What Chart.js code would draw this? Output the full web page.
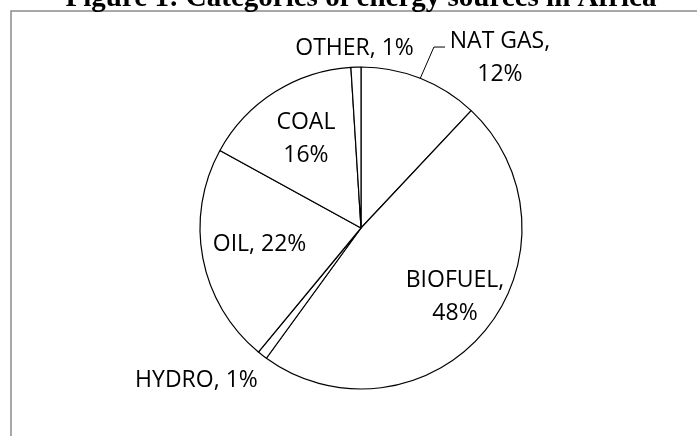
<!DOCTYPE html>
<html>
<head>
<meta charset="utf-8">
<script src="https://cdn.jsdelivr.net/npm/chart.js@4"></script>
<style>
  html, body { margin: 0; padding: 0; background: #fff; }
  #wrap { width: 697px; height: 436px; position: relative; overflow: hidden; }
</style>
</head>
<body>
<div id="wrap"><canvas id="energyChart" width="697" height="436"></canvas></div>
<script>
// data
const categories = ['NAT GAS', 'BIOFUEL', 'HYDRO', 'OIL', 'COAL', 'OTHER'];
const shares = [12, 48, 1, 22, 16, 1];
const titleText = 'Figure 1: Categories of energy sources in Africa';

// label layout, in units of the pie radius from its centre
const labelLines = [
    ['NAT GAS,', '{p}'],
    ['BIOFUEL,', '{p}'],
    ['HYDRO, {p}'],
    ['OIL, {p}'],
    ['COAL', '{p}'],
    ['OTHER, {p}']
];
const labelOffsets = [
    [0.863, -1.068],
    [0.584, 0.422],
    [-1.022, 0.938],
    [-0.630, 0.096],
    [-0.342, -0.562],
    [-0.040, -1.124]
];
// leader line for NAT GAS (from slice middle on the rim to these points)
const leaderPts = [[0.453, -1.124], [0.522, -1.124]];

const frameAndTitle = {
    id: 'frameAndTitle',
    beforeDraw(chart) {
        const ctx = chart.ctx;
        ctx.save();
        ctx.fillStyle = '#fff';
        ctx.fillRect(0, 0, chart.width, chart.height);
        ctx.strokeStyle = '#8c8c8c';
        ctx.lineWidth = 1.5;
        ctx.beginPath();
        ctx.moveTo(chart.width, 11);
        ctx.lineTo(11, 11);
        ctx.lineTo(11, chart.height);
        ctx.stroke();
        ctx.fillStyle = '#000';
        ctx.font = 'bold 29px "Liberation Serif", "Times New Roman", serif';
        ctx.textAlign = 'center';
        ctx.textBaseline = 'alphabetic';
        ctx.fillText(titleText, 361, 6);
        ctx.restore();
    }
};

const sliceLabels = {
    id: 'sliceLabels',
    afterDatasetsDraw(chart) {
        const ctx = chart.ctx;
        const meta = chart.getDatasetMeta(0);
        const total = shares.reduce((a, b) => a + b, 0);
        ctx.save();
        ctx.fillStyle = '#000';
        ctx.font = '23px "Open Sans", "Noto Sans", sans-serif';
        ctx.textAlign = 'center';
        ctx.textBaseline = 'alphabetic';
        const pitch = 33;
        meta.data.forEach((arc, i) => {
            const r = arc.outerRadius;
            const pct = Math.round(shares[i] / total * 100) + '%';
            const lines = labelLines[i].map(s => s.replace('{p}', pct));
            const cx = arc.x + labelOffsets[i][0] * r;
            const cy = arc.y + labelOffsets[i][1] * r;
            const top = cy - (lines.length - 1) * pitch / 2;
            lines.forEach((t, k) => {
                ctx.fillText(t, cx, top + k * pitch + 8);
            });
            if (i === 0) {
                const mid = (arc.startAngle + arc.endAngle) / 2;
                ctx.strokeStyle = '#000';
                ctx.lineWidth = 1;
                ctx.beginPath();
                ctx.moveTo(arc.x + Math.cos(mid) * r, arc.y + Math.sin(mid) * r);
                leaderPts.forEach(p => ctx.lineTo(arc.x + p[0] * r, arc.y + p[1] * r));
                ctx.stroke();
            }
        });
        ctx.restore();
    }
};

new Chart(document.getElementById('energyChart'), {
    type: 'pie',
    data: {
        labels: categories,
        datasets: [{
            data: shares,
            backgroundColor: '#fff',
            borderColor: '#000',
            borderWidth: 1.2
        }]
    },
    options: {
        responsive: false,
        animation: false,
        radius: 161,
        layout: { padding: { left: 200, right: 175, top: 67, bottom: 47 } },
        plugins: {
            legend: { display: false },
            tooltip: { enabled: false }
        }
    },
    plugins: [frameAndTitle, sliceLabels]
});
</script>
</body>
</html>
